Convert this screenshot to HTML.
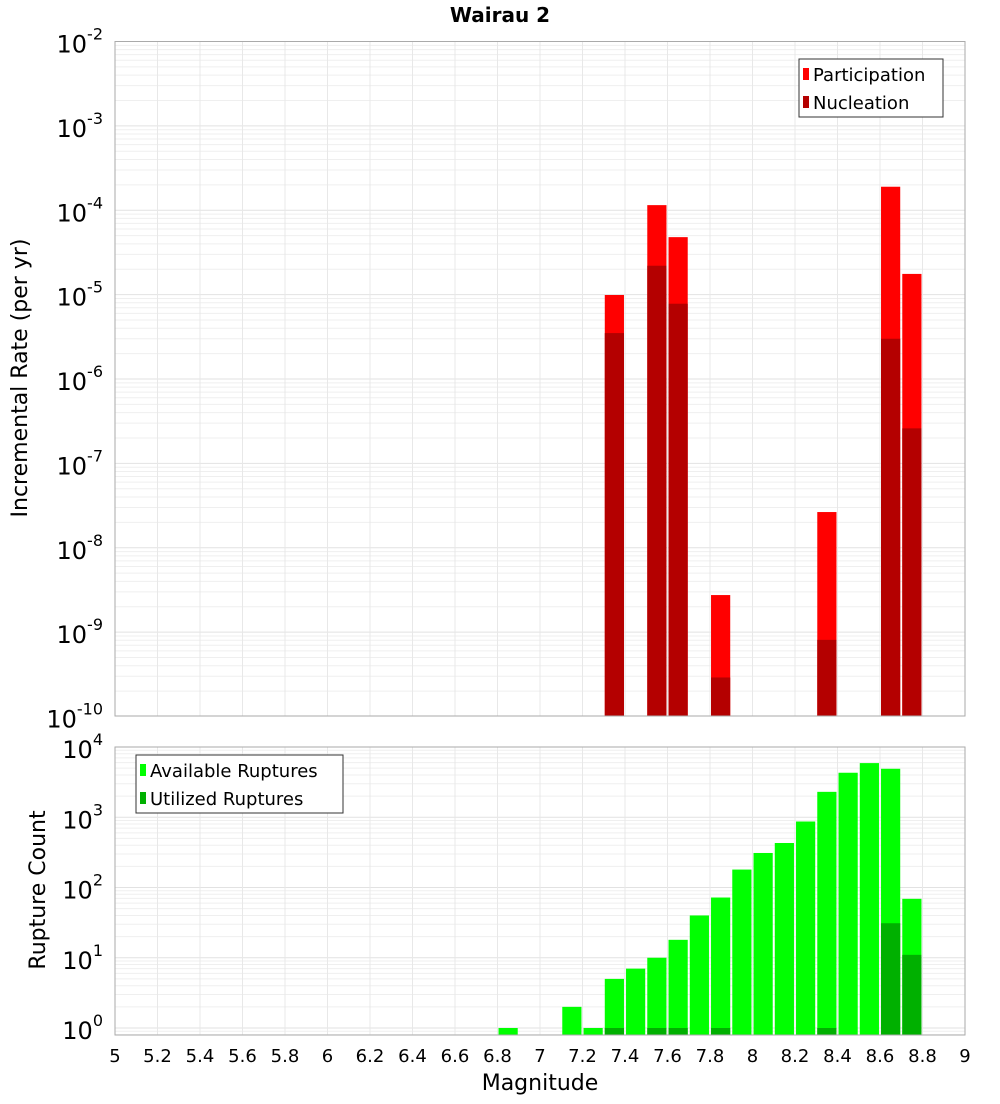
<!DOCTYPE html>
<html><head><meta charset="utf-8"><style>
body{margin:0;background:#fff;font-family:"DejaVu Sans","Liberation Sans",sans-serif}
svg text{font-family:"DejaVu Sans","Liberation Sans",sans-serif}
</style></head><body>
<svg id="c" width="1000" height="1100" xmlns="http://www.w3.org/2000/svg">
<text x="500" y="22" text-anchor="middle" font-size="20" font-weight="bold">Wairau 2</text>
<g id="top"></g>
<g id="bot"></g>
<text transform="translate(27,378) rotate(-90)" text-anchor="middle" font-size="22">Incremental Rate (per yr)</text>
<text transform="translate(45,890) rotate(-90)" text-anchor="middle" font-size="22">Rupture Count</text>
<text x="540" y="1090" text-anchor="middle" font-size="22">Magnitude</text>
</svg>
<script>
const rateMags=[7.35,7.55,7.65,7.85,8.35,8.65,8.75];
const participation=[9.9e-6,1.15e-4,4.8e-5,2.75e-9,2.65e-8,1.9e-4,1.76e-5];
const nucleation=[3.5e-6,2.2e-5,7.8e-6,2.9e-10,8.1e-10,3.0e-6,2.6e-7];
const countMags=[6.85,7.15,7.25,7.35,7.45,7.55,7.65,7.75,7.85,7.95,8.05,8.15,8.25,8.35,8.45,8.55,8.65,8.75];
const available=[1,2,1,5,7,10,18,40,72,180,310,430,870,2300,4300,5900,4900,69];
const utilMags=[7.35,7.55,7.65,7.85,8.35,8.65,8.75];
const utilized=[1,1,1,1,1,31,11];
const xTicks=[5,5.2,5.4,5.6,5.8,6,6.2,6.4,6.6,6.8,7,7.2,7.4,7.6,7.8,8,8.2,8.4,8.6,8.8,9];
const rateExp=[-2,-3,-4,-5,-6,-7,-8,-9,-10];
const countExp=[4,3,2,1,0];
const NS="http://www.w3.org/2000/svg";
const X0=115,X1=965;
const x=m=>X0+(m-5)/4*(X1-X0);
const yTop=v=>41.5+(-2-Math.log10(v))*84.375;
const yBot=v=>1028-Math.log10(v)*70.25;
function mk(p,t,a){const e=document.createElementNS(NS,t);for(const k in a)e.setAttribute(k,a[k]);p.appendChild(e);return e;}
function panel(g,top,bottom,yf,exps,minE,maxE){
  for(let e=minE;e<maxE;e++)for(let k=1;k<10;k++){const yy=yf(k*Math.pow(10,e));if(yy<top||yy>bottom)continue;
    const l=mk(g,'line',{x1:X0,x2:X1,y1:yy,y2:yy,stroke:k==1?'#e2e2e2':'#efefef','stroke-width':1});
    
    }
  xTicks.forEach(m=>{const l=mk(g,'line',{x1:x(m),x2:x(m),y1:top,y2:bottom,stroke:'#e8e8e8'});
    
    });
}
const T=document.getElementById('top'),B=document.getElementById('bot');
panel(T,41.5,716,yTop,rateExp,-10,-2);
panel(B,747,1035,yBot,countExp,-1,4);
function bars(g,mags,vals,yf,base,col,name){
  mags.forEach((m,i)=>{const yy=yf(vals[i]);const r=mk(g,'rect',{x:x(m)-9.6,y:yy,width:19.2,height:base-yy,fill:col});
    
    });
}
bars(T,rateMags,participation,yTop,716,'#ff0000','participation-bar');
bars(T,rateMags,nucleation,yTop,716,'#b40000','nucleation-bar');
bars(B,countMags,available,yBot,1035,'#00ff00','available-bar');
bars(B,utilMags,utilized,yBot,1035,'#00b000','utilized-bar');
mk(T,'rect',{x:X0,y:41.5,width:X1-X0,height:674.5,fill:'none',stroke:'#aaa'});
mk(B,'rect',{x:X0,y:747,width:X1-X0,height:288,fill:'none',stroke:'#aaa'});
function ylab(g,e,yy){const t=mk(g,'text',{x:103,y:yy+11,'text-anchor':'end','font-size':24});
  t.textContent='10';const s=mk(t,'tspan',{dy:-13,'font-size':16});s.textContent=String(e);
  
  }
rateExp.forEach(e=>ylab(T,e,yTop(Math.pow(10,e))));
countExp.forEach(e=>ylab(B,e,yBot(Math.pow(10,e))));
xTicks.forEach(m=>{const t=mk(B,'text',{x:x(m),y:1062,'text-anchor':'middle','font-size':18});t.textContent=String(m);
  
  });
function legend(g,x0,y0,w,items){const r=mk(g,'rect',{x:x0,y:y0,width:w,height:58,fill:'#fff',stroke:'#333'});
  
  
  items.forEach((it,i)=>{const yy=y0+15+i*28;mk(g,'rect',{x:x0+4,y:yy-6,width:6,height:12,fill:it[1]});
    const t=mk(g,'text',{x:x0+14,y:yy+7,'font-size':18});t.textContent=it[0];
    
    });}
legend(T,799,59,144,[['Participation','#ff0000'],['Nucleation','#b40000']]);
legend(B,136,755,207,[['Available Ruptures','#00ff00'],['Utilized Ruptures','#00b000']]);
</script>
</body></html>
